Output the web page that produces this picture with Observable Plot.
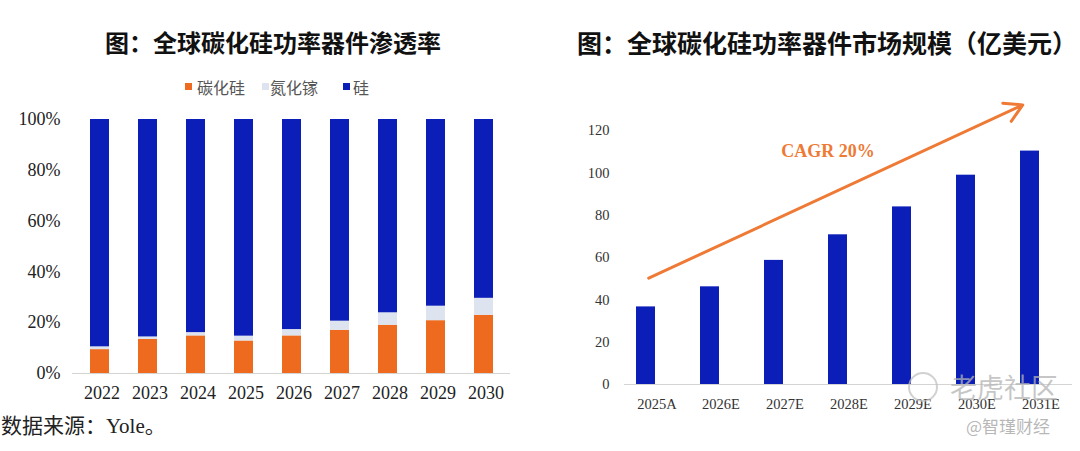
<!DOCTYPE html>
<html><head><meta charset="utf-8">
<script src="https://cdn.jsdelivr.net/npm/d3@7"></script>
<script src="https://cdn.jsdelivr.net/npm/@observablehq/plot@0.6"></script>
<style>
body{margin:0;background:#fff;width:1080px;height:451px;position:relative;overflow:hidden;font-family:"Liberation Serif","Noto Sans CJK SC",serif;}
.abs{position:absolute;white-space:nowrap;line-height:1;}
.title{font-family:"Noto Sans CJK SC",sans-serif;font-weight:bold;color:#111;}
.sw{position:absolute;width:7px;height:7px;}
.lg{position:absolute;font-family:"Noto Sans CJK SC",sans-serif;font-size:16px;color:#555;line-height:1;}
</style></head><body>
<div class="abs title" style="left:105px;top:30px;font-size:24px;">图：全球碳化硅功率器件渗透率</div>
<div class="abs title" style="left:577px;top:30px;font-size:25px;">图：全球碳化硅功率器件市场规模（亿美元）</div>
<div id="legend"></div>
<div id="left" class="abs" style="left:0;top:100px;"></div>
<div id="right" class="abs" style="left:580px;top:80px;"></div>
<div class="abs" style="left:1px;top:416px;font-size:21px;color:#222;">数据来源：Yole。</div>
<div class="abs" style="left:908px;top:372px;width:26px;height:26px;border:2px solid rgba(190,190,190,0.7);border-radius:50%;"></div>
<div class="abs" style="left:950px;top:373px;font-size:27px;color:rgba(180,180,180,0.75);font-family:'Noto Sans CJK SC';">老虎社区</div>
<div class="abs" style="left:966px;top:417px;font-size:17px;color:rgba(170,170,170,0.85);font-family:'Noto Sans CJK SC';">@智瑾财经</div>
<script>
// Left chart data (percent share)
const years = ["2022","2023","2024","2025","2026","2027","2028","2029","2030"];
const sicShare = [9.4,13.4,14.8,12.8,14.8,17.0,19.0,20.8,22.9];
const ganShare = [1.1,1.0,1.3,1.9,2.5,3.6,4.9,5.7,6.7];
const siShare  = [89.5,85.6,83.9,85.3,82.7,79.4,76.1,73.5,70.4];
const seriesNames = ["碳化硅","氮化镓","硅"];
const seriesColors = ["#ED6A1E","#DDE3EF","#0B1FB8"];
const yTicksLeft = [0,20,40,60,80,100];

// Right chart data (亿美元)
const periods = ["2025A","2026E","2027E","2028E","2029E","2030E","2031E"];
const marketSize = [36.7,46.2,58.7,70.8,84.0,99.0,110.4];
const yTicksRight = [0,20,40,60,80,100,120];
const cagrLabel = "CAGR 20%";
const trendStart = {x:"2025A", y:49.7};
const trendEnd = {x:"2031E", y:133.8};

// legend
const legendPos = [[185,197],[262,270],[343,353]];
const lg = document.getElementById("legend");
seriesNames.forEach((n,i)=>{
  const s=document.createElement("div");s.className="sw";
  s.style.left=legendPos[i][0]+"px";s.style.top="83px";s.style.background=seriesColors[i];lg.appendChild(s);
  const t=document.createElement("div");t.className="lg";t.textContent=n;
  t.style.left=legendPos[i][1]+"px";t.style.top="79px";lg.appendChild(t);
});

const rows = [];
[sicShare,ganShare,siShare].forEach((arr,k)=>arr.forEach((v,i)=>rows.push({year:years[i],type:seriesNames[k],value:v})));

const left = Plot.plot({
  width:540,height:310,marginLeft:72,marginRight:30,marginTop:19,marginBottom:37,
  style:{fontFamily:"Liberation Serif, serif",fontSize:"18px",color:"#222",background:"transparent"},
  x:{domain:years,paddingInner:0.61,paddingOuter:0.3,label:null},
  y:{domain:[0,100],label:null},
  color:{domain:seriesNames,range:seriesColors},
  marks:[
    Plot.barY(rows,{x:"year",y:"value",fill:"type"}),
    Plot.ruleY([0],{stroke:"#d4d4d4"}),
    Plot.axisY({ticks:yTicksLeft,tickFormat:d=>d+"%",tickSize:0,tickPadding:12,label:null,fontSize:18}),
    Plot.axisX({tickSize:0,tickPadding:13,dx:2,label:null,fontSize:18})
  ]
});
document.getElementById("left").appendChild(left);

const right = Plot.plot({
  width:500,height:350,marginLeft:44,marginRight:8,marginTop:8,marginBottom:46,
  style:{fontFamily:"Liberation Serif, serif",fontSize:"14.5px",color:"#333",background:"transparent",overflow:"visible"},
  x:{domain:periods,paddingInner:0.704,paddingOuter:0.34,align:0.26,label:null},
  y:{domain:[0,140],label:null},
  marks:[
    Plot.barY(periods.map((p,i)=>({p,v:marketSize[i]})),{x:"p",y:"v",fill:"#0B1FB8"}),
    Plot.ruleY([0],{stroke:"#d4d4d4"}),
    Plot.arrow([{x1:trendStart.x,y1:trendStart.y,x2:trendEnd.x,y2:trendEnd.y}],{x1:"x1",y1:"y1",x2:"x2",y2:"y2",stroke:"#EE7A35",strokeWidth:3,headLength:10,insetStart:3,insetEnd:8}),
    Plot.text([cagrLabel],{x:()=>"2028E",y:()=>110.4,text:d=>d,dx:-10,fill:"#EE7A35",fontWeight:"bold",fontSize:18}),
    Plot.axisY({ticks:yTicksRight,tickSize:0,tickPadding:15,label:null,fontSize:14.5}),
    Plot.axisX({tickSize:0,tickPadding:14,dx:11,label:null,fontSize:14.5})
  ]
});
document.getElementById("right").appendChild(right);
</script>
</body></html>
